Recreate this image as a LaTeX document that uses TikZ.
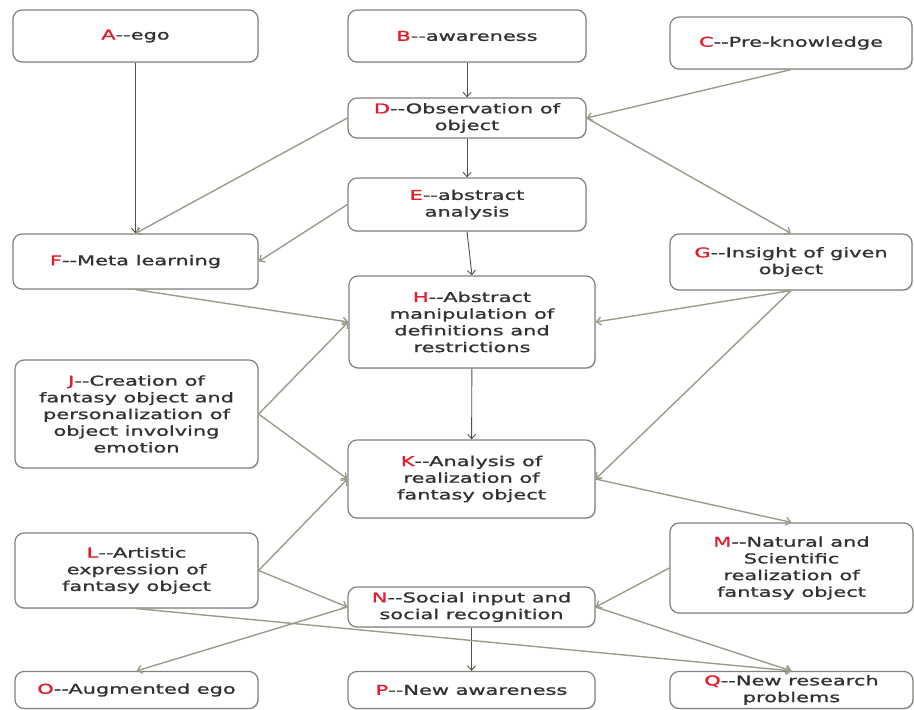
\documentclass[tikz,border=0pt]{standalone}
\usepackage{fontspec}
\setmainfont{DejaVu Sans}[FakeStretch=1.55,FakeBold=1.2]
\usetikzlibrary{arrows.meta,shadows}
\definecolor{lred}{RGB}{225,30,45}
\definecolor{txtgray}{RGB}{50,50,50}
\definecolor{boxgray}{RGB}{130,130,125}
\definecolor{linelight}{RGB}{155,155,140}
\definecolor{linedark}{RGB}{80,80,70}
\newcommand{\R}[1]{\textcolor{lred}{#1}}
\tikzset{
  box/.style 2 args={draw=boxgray, line width=1.2pt, rounded corners=9pt, fill=white,
    minimum width=#1pt, minimum height=#2pt, inner sep=0pt, align=center,
    text=txtgray, font=\fontsize{13.5}{16.7}\selectfont,
    drop shadow={opacity=0.2, shadow xshift=1.2pt, shadow yshift=-1.2pt}},
  conn/.style={draw=linelight, line width=1.4pt, -{Straight Barb[length=4.5pt,width=8pt]}},
  vconn/.style={draw=linedark, line width=0.9pt, -{Straight Barb[length=4.5pt,width=8pt]}}
}
\begin{document}
\begin{tikzpicture}[x=1pt,y=-1pt]
\useasboundingbox (0,0) rectangle (914,710);
\node[box={245}{52}] (A) at (135.5,36) {\R{A}-{}-ego};
\node[box={238}{52}] (B) at (467,36) {\R{B}-{}-awareness};
\node[box={242}{52}] (C) at (791,43) {\R{C}-{}-Pre-knowledge};
\node[box={238}{40}] (D) at (467,118) {\R{D}-{}-Observation of\\object};
\node[box={238}{53}] (E) at (467,204.5) {\R{E}-{}-abstract\\analysis};
\node[box={245}{55}] (F) at (135.5,261.5) {\R{F}-{}-Meta learning};
\node[box={242}{56}] (G) at (791,262) {\R{G}-{}-Insight of given\\object};
\node[box={246}{92}] (H) at (472,322) {\R{H}-{}-Abstract\\manipulation of\\definitions and\\restrictions};
\node[box={243}{108}] (J) at (136.5,414) {\R{J}-{}-Creation of\\fantasy object and\\personalization of\\object involving\\emotion};
\node[box={247}{78}] (K) at (471.5,479) {\R{K}-{}-Analysis of\\realization of\\fantasy object};
\node[box={243}{75}] (L) at (136.5,570.5) {\R{L}-{}-Artistic\\expression of\\fantasy object};
\node[box={243}{90}] (M) at (791.5,568) {\R{M}-{}-Natural and\\Scientific\\realization of\\fantasy object};
\node[box={247}{40}] (N) at (471.5,607) {\R{N}-{}-Social input and\\social recognition};
\node[box={243}{37}] (O) at (136.5,690) {\R{O}-{}-Augmented ego};
\node[box={247}{37}] (P) at (471.5,690) {\R{P}-{}-New awareness};
\node[box={243}{37}] (Q) at (791.5,690) {\R{Q}-{}-New research\\problems};

\draw[vconn] (A) -- (F);
\draw[vconn] (B) -- (D);
\draw[vconn] (D) -- (E);
\draw[vconn] (E.south) -- (H.north);
\draw[vconn] (H) -- (K);
\draw[vconn] (N) -- (P);
\draw[conn] (C.south) -- (D.east);
\draw[conn] (D.west) -- (F.north);
\draw[conn] (D.east) -- (G.north);
\draw[conn] (E.west) -- (F.east);
\draw[conn] (F.south) -- (H.west);
\draw[conn] (G.south) -- (H.east);
\draw[conn] (G.south) -- (K.east);
\draw[conn] (J.east) -- (H.west);
\draw[conn] (J.east) -- (K.west);
\draw[conn] (K.east) -- (M.north);
\draw[conn] (L.east) -- (K.west);
\draw[conn] (L.east) -- (N.west);
\draw[conn] (L.south) -- (Q.north);
\draw[conn] (M.west) -- (N.east);
\draw[conn] (N.west) -- (O.north);
\draw[conn] (N.east) -- (Q.north);
\end{tikzpicture}
\end{document}
